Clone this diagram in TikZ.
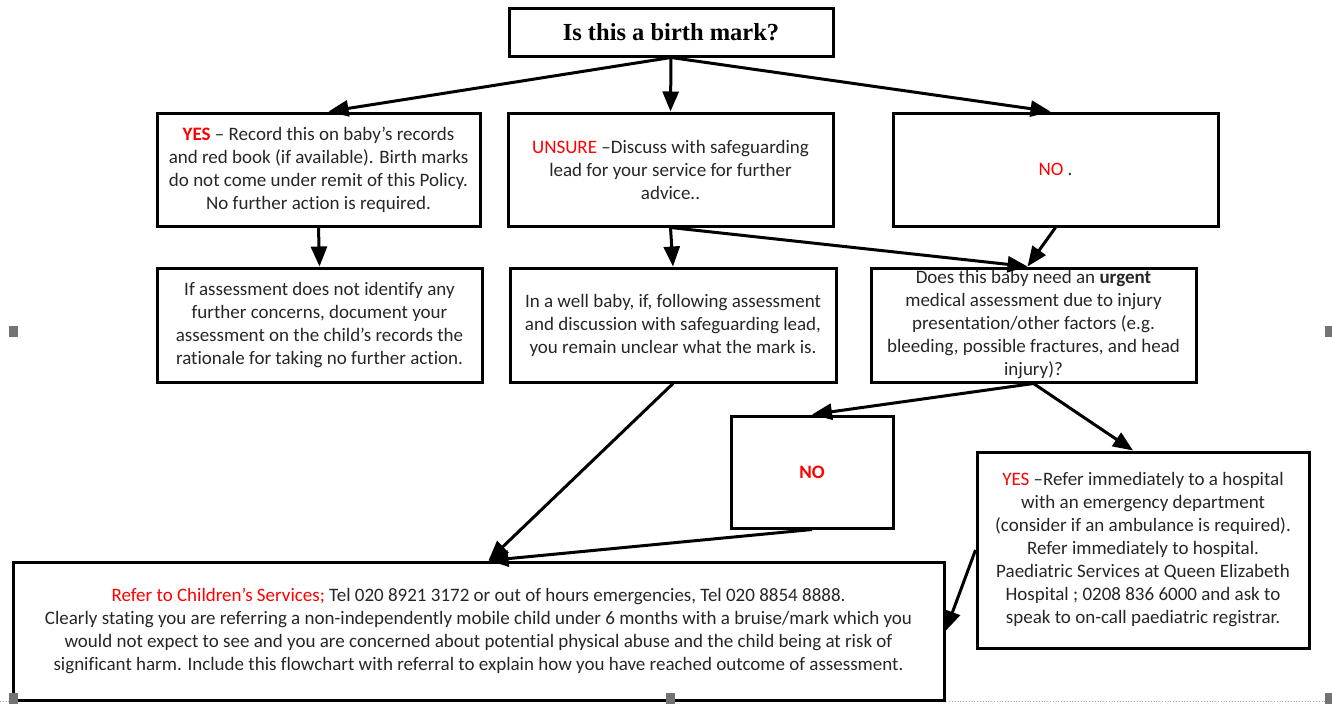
\documentclass[tikz,border=0pt]{standalone}
\usepackage{fontspec}
\setmainfont[Ligatures={TeX,NoCommon}]{Carlito}
\newfontfamily\titlefont{Liberation Serif}
\usetikzlibrary{arrows.meta}
\definecolor{alertred}{RGB}{255,0,0}
\newcommand{\warn}[1]{\textcolor{alertred}{#1}}
\begin{document}
\begin{tikzpicture}[x=1pt, y=-1pt,
	box/.style={
		draw=black, line width=3pt, align=center, inner sep=0pt,
		font=\fontsize{19}{23}\selectfont, text=black!85},
	flow/.style={line width=3pt, -{Triangle[length=20pt, width=16pt]}},
	handle/.style={fill=black!55}]
	\useasboundingbox (0,0) rectangle (1332,704);
	\draw[black!30, dotted, line width=0.8pt] (0,701) -- (1332,701);
	\node[box, minimum width=324pt, minimum height=48pt, text=black,
		font=\titlefont\bfseries\fontsize{24.5}{28}\selectfont] (birthmark) at (671,32) {Is this a birth mark?};
	\node[box, minimum width=323pt, minimum height=113pt] (yes) at (318.5,169.5)
		{\warn{\textbf{YES}} -- Record this on baby’s records\\and red book (if available). Birth marks\\do not come under remit of this Policy.\\No further action is required.};
	\node[box, minimum width=325pt, minimum height=113pt] (unsure) at (670.5,169.5)
		{\warn{UNSURE} --Discuss with safeguarding\\lead for your service for further\\advice..};
	\node[box, minimum width=325pt, minimum height=113pt] (no) at (1055.5,169.5) {\warn{NO} .};
	\node[box, minimum width=325pt, minimum height=114pt] (assess) at (319.5,325)
		{If assessment does not identify any\\further concerns, document your\\assessment on the child’s records the\\rationale for taking no further action.};
	\node[box, minimum width=326pt, minimum height=114pt] (wellbaby) at (673,325)
		{In a well baby, if, following assessment\\and discussion with safeguarding lead,\\you remain unclear what the mark is.};
	\node[box, minimum width=325pt, minimum height=114pt] (urgent) at (1033.5,325)
		{Does this baby need an \textbf{urgent}\\medical assessment due to injury\\presentation/other factors (e.g.\\bleeding, possible fractures, and head\\injury)?};
	\node[box, minimum width=162pt, minimum height=112pt] (noneed) at (812,472) {\warn{\textbf{NO}}};
	\node[box, minimum width=332pt, minimum height=196pt] (hospital) at (1143,550)
		{\warn{YES} --Refer immediately to a hospital\\with an emergency department\\(consider if an ambulance is required).\\Refer immediately to hospital.\\Paediatric Services at Queen Elizabeth\\Hospital ; 0208 836 6000 and ask to\\speak to on-call paediatric registrar.};
	\node[box, minimum width=931pt, minimum height=138pt] (referral) at (478.5,631)
		{\warn{Refer to Children’s Services;} Tel 020 8921 3172 or out of hours emergencies, Tel 020 8854 8888.\\Clearly stating you are referring a non-independently mobile child under 6 months with a bruise/mark which you\\would not expect to see and you are concerned about potential physical abuse and the child being at risk of\\significant harm. Include this flowchart with referral to explain how you have reached outcome of assessment.};
	% connectors
	\draw[flow] (birthmark.south) -- ([xshift=10pt]yes.north);
	\draw[flow] (birthmark.south) -- (unsure.north);
	\draw[flow] (birthmark.south) -- ([xshift=-5pt]no.north);
	\draw[flow] (yes.south) -- (assess.north);
	\draw[flow] (unsure.south) -- (wellbaby.north);
	\draw[flow] (unsure.south) -- ([xshift=-6pt]urgent.north);
	\draw[flow] (no.south) -- ([xshift=-6pt]urgent.north);
	\draw[flow] (urgent.south) -- (noneed.north);
	\draw[flow] (urgent.south) -- ([xshift=-10pt]hospital.north);
	\draw[flow] (wellbaby.south) -- ([xshift=10pt]referral.north);
	\draw[flow] (noneed.south) -- ([xshift=10pt]referral.north);
	\draw[flow] (hospital.west) -- (referral.east);
	% selection handles
	\fill[handle] (9,326) rectangle (18,337);
	\fill[handle] (1325,326) rectangle (1332,337);
	\fill[handle] (9,693) rectangle (18,704);
	\fill[handle] (666,693) rectangle (675,704);
	\fill[handle] (1325,693) rectangle (1332,704);
\end{tikzpicture}
\end{document}
